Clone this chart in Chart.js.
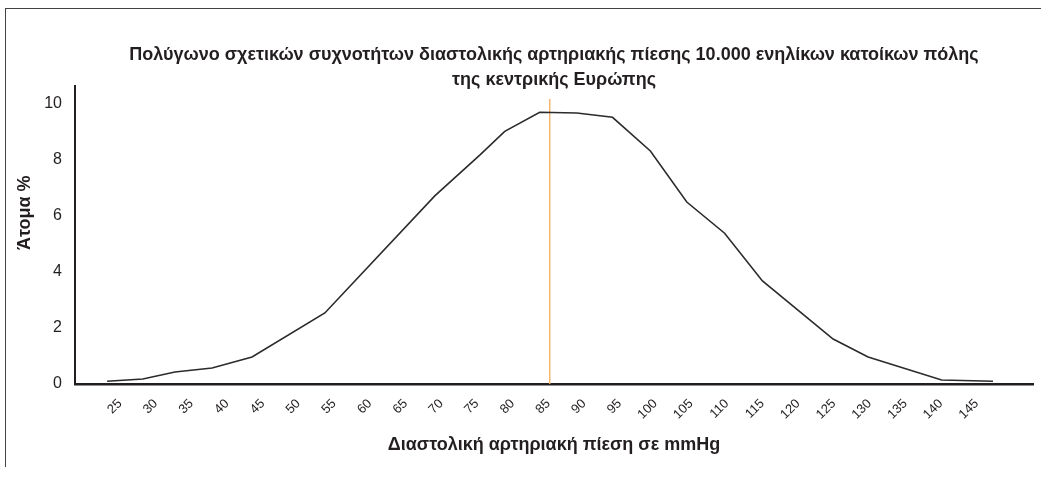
<!DOCTYPE html>
<html>
<head>
<meta charset="utf-8">
<script src="https://cdn.jsdelivr.net/npm/chart.js@4"></script>
<style>
  body { margin: 0; background: #fff; }
  #wrap { position: relative; width: 1041px; height: 480px; overflow: hidden; }
  #frame { position: absolute; left: 5px; top: 8px; width: 1100px; height: 458px;
           border-left: 1.5px solid #444; border-top: 1.5px solid #444; }
  canvas { position: absolute; left: 0; top: 0; }
</style>
</head>
<body>
<div id="wrap">
  <div id="frame"></div>
  <canvas id="chart" width="1041" height="480"></canvas>
</div>
<script>
const pressure = [23.2, 28.2, 32.7, 37.9, 43.5, 53.7, 69.1, 75.4, 78.9, 83.8, 89, 94, 99.3, 104.4, 109.7, 115, 124.9, 129.8, 140.1, 147.3];
const percent = [0.1, 0.18, 0.43, 0.57, 0.96, 2.53, 6.7, 8.15, 9.0, 9.68, 9.65, 9.5, 8.3, 6.48, 5.37, 3.67, 1.6, 0.96, 0.14, 0.1];
const xTicks = [25, 30, 35, 40, 45, 50, 55, 60, 65, 70, 75, 80, 85, 90, 95, 100, 105, 110, 115, 120, 125, 130, 135, 140, 145];
const yTicks = [0, 2, 4, 6, 8, 10];
const markX = 85.2;
const markTop = 10.15;

const font = "'Liberation Sans', Arial, sans-serif";
const ink = "#231f20";

const ctx = document.getElementById("chart").getContext("2d");
new Chart(ctx, {
  type: "line",
  data: {
    datasets: [
      {
        data: pressure.map((x, i) => ({ x: x, y: percent[i] })),
        borderColor: "#2b2b2b",
        borderWidth: 1.6,
        pointRadius: 0,
        tension: 0,
      },
      {
        data: [{ x: markX, y: 0 }, { x: markX, y: markTop }],
        borderColor: "#f6b46e",
        borderWidth: 1.5,
        pointRadius: 0,
      },
    ],
  },
  options: {
    responsive: false,
    animation: false,
    layout: { padding: { left: 0, right: 8, top: 0, bottom: 0 } },
    plugins: {
      legend: { display: false },
      tooltip: { enabled: false },
      title: {
        display: true,
        fullSize: false,
        text: [
          "Πολύγωνο σχετικών συχνοτήτων διαστολικής αρτηριακής πίεσης 10.000 ενηλίκων κατοίκων πόλης",
          "της κεντρικής Ευρώπης",
        ],
        color: ink,
        font: { family: font, size: 18, weight: "bold", lineHeight: 1.4 },
        padding: { top: 42, bottom: -6 },
      },
    },
    scales: {
      x: {
        type: "linear",
        min: 18.7,
        max: 152.9,
        afterFit: (s) => { s.height = 96; },
        afterBuildTicks: (s) => { s.ticks = xTicks.map((v) => ({ value: v })); },
        grid: { display: false, drawTicks: false },
        border: { display: true, color: ink, width: 2.5 },
        ticks: {
          autoSkip: false,
          minRotation: 45,
          maxRotation: 45,
          padding: 12,
          color: ink,
          font: { family: font, size: 13 },
        },
        title: {
          display: true,
          text: "Διαστολική αρτηριακή πίεση σε mmHg",
          color: ink,
          font: { family: font, size: 18, weight: "bold" },
          padding: { bottom: 24 },
        },
      },
      y: {
        min: 0,
        max: 10.6,
        afterFit: (s) => { s.width = 75; },
        afterBuildTicks: (s) => { s.ticks = yTicks.map((v) => ({ value: v })); },
        grid: { display: false, drawTicks: false },
        border: { display: true, color: ink, width: 2 },
        ticks: {
          padding: 13,
          color: ink,
          font: { family: font, size: 16 },
        },
        title: {
          display: true,
          text: "\u00a0\u00a0\u00a0\u00a0\u00a0\u00a0\u00a0\u00a0\u00a0Άτομα %",
          color: ink,
          font: { family: font, size: 18, weight: "bold" },
          padding: { top: 14 },
        },
      },
    },
  },
});
</script>
</body>
</html>
